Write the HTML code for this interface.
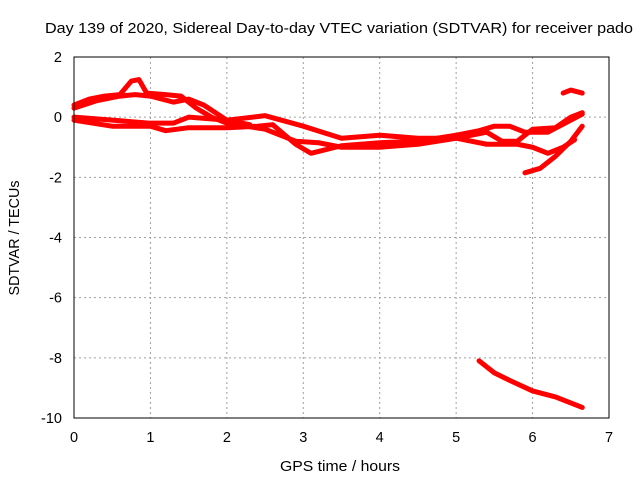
<!DOCTYPE html>
<html><head><meta charset="utf-8"><style>
body{margin:0;background:#fff;}
svg text{font-family:"Liberation Sans",sans-serif;font-size:14.5px;fill:#000;}
</style></head><body>
<svg id="chart" width="640" height="480">
<text x="339" y="33" text-anchor="middle" textLength="588" lengthAdjust="spacingAndGlyphs">Day 139 of 2020, Sidereal Day-to-day VTEC variation (SDTVAR) for receiver pado</text>
<text x="340" y="471" text-anchor="middle" textLength="120" lengthAdjust="spacingAndGlyphs">GPS time / hours</text>
<text x="19" y="238" text-anchor="middle" textLength="115" lengthAdjust="spacingAndGlyphs" transform="rotate(-90 19 238)">SDTVAR / TECUs</text>
<g id="grid"></g><g id="ticks"></g><g id="series"></g>
<rect x="74" y="57" width="535" height="361" fill="none" stroke="#000" stroke-width="1"/>
</svg>
<script>
const xTicks=[0,1,2,3,4,5,6,7];
const yTicks=[2,0,-2,-4,-6,-8,-10];
const trackA=[[0,0.4],[0.2,0.6],[0.4,0.7],[0.6,0.75],[0.75,1.2],[0.85,1.25],[0.95,0.8],[1.2,0.75],[1.4,0.7],[1.6,0.3],[1.8,0.0],[2.0,-0.2]];
const trackB=[[0,0.3],[0.3,0.55],[0.6,0.7],[0.8,0.75],[1.0,0.7],[1.3,0.5],[1.5,0.6],[1.7,0.4],[2.0,-0.1],[2.3,-0.25]];
const trackC=[[0,-0.1],[0.5,-0.3],[1.0,-0.3],[1.2,-0.45],[1.5,-0.35],[2.0,-0.35],[2.4,-0.3],[2.6,-0.25],[2.9,-0.9],[3.1,-1.2],[3.5,-0.95],[4.0,-0.85],[4.5,-0.8],[5.0,-0.6],[5.3,-0.45],[5.5,-0.3],[5.7,-0.3],[5.9,-0.5],[6.2,-0.5],[6.5,-0.1],[6.65,0.1]];
const trackD=[[0,0.0],[0.5,-0.1],[1.0,-0.2],[1.3,-0.2],[1.5,0.0],[2.0,-0.1],[2.5,0.05],[3.0,-0.3],[3.5,-0.7],[4.0,-0.6],[4.5,-0.7],[5.0,-0.7],[5.4,-0.5],[5.6,-0.8],[5.8,-0.8],[6.0,-0.4],[6.3,-0.35],[6.5,0.0],[6.65,0.15]];
const trackE=[[2.0,-0.2],[2.5,-0.4],[2.9,-0.8],[3.2,-0.85],[3.5,-1.0],[4.0,-1.0],[4.5,-0.9],[5.0,-0.7],[5.4,-0.9],[5.8,-0.9],[6.0,-1.0],[6.2,-1.2],[6.4,-1.0],[6.55,-0.75]];
const trackF=[[5.9,-1.85],[6.1,-1.7],[6.3,-1.3],[6.5,-0.8],[6.65,-0.3]];
const trackG=[[6.4,0.8],[6.5,0.9],[6.65,0.8]];
const trackH=[[5.3,-8.1],[5.5,-8.5],[5.7,-8.75],[6.0,-9.1],[6.3,-9.3],[6.6,-9.6],[6.65,-9.65]];
const tracks=[trackA,trackB,trackC,trackD,trackE,trackF,trackG,trackH];
const X=h=>74+h*(535/7), Y=v=>57+(2-v)*(361/12);
const NS="http://www.w3.org/2000/svg";
const grid=document.getElementById('grid'),ticks=document.getElementById('ticks'),ser=document.getElementById('series');
function mk(tag,attrs,parent){const e=document.createElementNS(NS,tag);for(const k in attrs)e.setAttribute(k,attrs[k]);parent.appendChild(e);return e;}
xTicks.forEach(t=>{
  if(t>0&&t<7){const g=mk('line',{x1:X(t),x2:X(t),y1:57,y2:418,stroke:'#a0a0a0','stroke-dasharray':'2,3'},grid);
  
  }
  const l=mk('text',{x:X(t),y:442,'text-anchor':'middle'},ticks);l.textContent=t;
  
  
});
yTicks.forEach(t=>{
  if(t<2&&t>-10){const g=mk('line',{x1:74,x2:609,y1:Y(t),y2:Y(t),stroke:'#a0a0a0','stroke-dasharray':'2,3'},grid);
  
  }
  const l=mk('text',{x:62,y:Y(t)+5,'text-anchor':'end'},ticks);l.textContent=t;
  
  
});
tracks.forEach(tr=>{
  const p=mk('polyline',{points:tr.map(d=>X(d[0])+','+Y(d[1])).join(' '),fill:'none',stroke:'#ff0000','stroke-width':5,'stroke-linejoin':'round','stroke-linecap':'round'},ser);
  
  
});
</script>
</body></html>
